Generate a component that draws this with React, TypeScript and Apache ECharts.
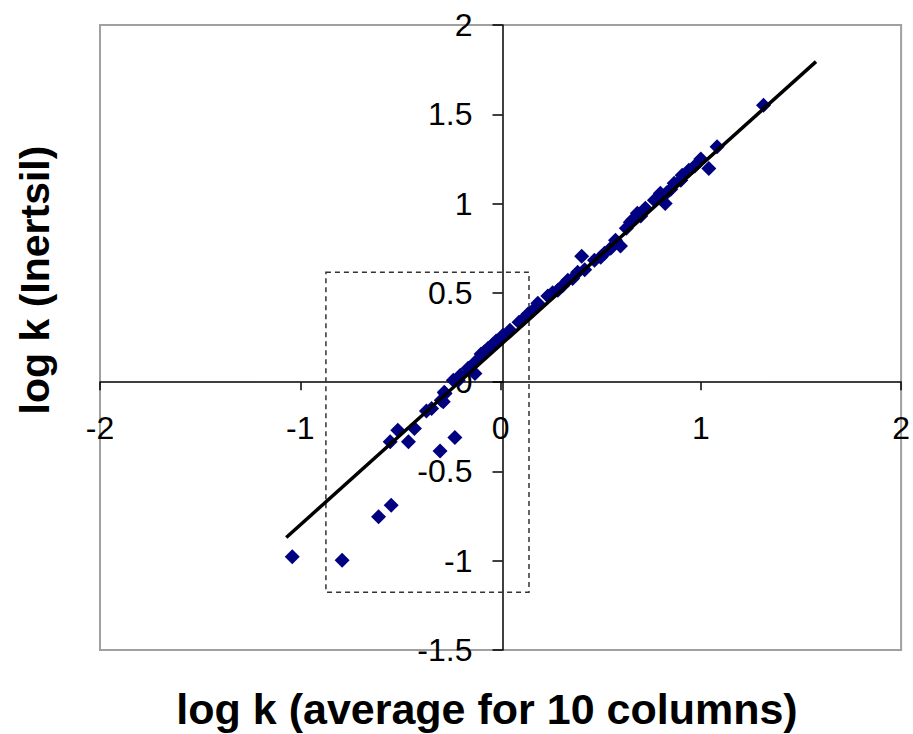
import React, { useEffect, useRef } from "react";
import * as echarts from "echarts";

const xValues = [
  -1.04, -0.791, -0.609, -0.546, -0.551, -0.513, -0.46, -0.43, -0.302, -0.228,
  -0.37, -0.344, -0.296, -0.286, -0.281, -0.277, -0.236, -0.211, -0.201, -0.162,
  -0.128, -0.127, -0.097, -0.08, -0.062, -0.04, -0.022, 0.012, 0.047, 0.092,
  0.11, 0.137, 0.16, 0.186, 0.236, 0.26, 0.286, 0.31, 0.336, 0.36,
  0.385, 0.405, 0.42, 0.469, 0.5, 0.519, 0.55, 0.574, 0.599, 0.628,
  0.648, 0.66, 0.683, 0.7, 0.723, 0.768, 0.798, 0.822, 0.83, 0.85,
  0.867, 0.9, 0.907, 0.94, 0.97, 1.0, 1.04, 1.081, 1.313,
];
const yValues = [
  -0.978, -0.997, -0.754, -0.689, -0.334, -0.269, -0.334, -0.26, -0.385, -0.31,
  -0.162, -0.147, -0.101, -0.11, -0.056, -0.063, 0.011, 0.011, 0.039, 0.078,
  0.049, 0.112, 0.157, 0.17, 0.19, 0.21, 0.23, 0.263, 0.291, 0.336,
  0.35, 0.381, 0.4, 0.442, 0.482, 0.5, 0.515, 0.54, 0.571, 0.58,
  0.616, 0.705, 0.63, 0.683, 0.7, 0.722, 0.75, 0.795, 0.762, 0.862,
  0.896, 0.91, 0.946, 0.93, 0.974, 1.019, 1.058, 1.0, 1.06, 1.08,
  1.114, 1.13, 1.159, 1.187, 1.21, 1.25, 1.196, 1.318, 1.551,
];

const trendX = [-1.07, 1.575];
const trendY = [-0.87, 1.795];

const boxCorner1 = [-0.872, 0.616];
const boxCorner2 = [0.142, -1.176];

const xTitle = "log k (average for 10 columns)";
const yTitle = "log k (Inertsil)";

const FONT = "'Liberation Sans', Arial, Helvetica, sans-serif";

const GRID_LEFT = 100;
const GRID_TOP = 25;
const GRID_W = 805;
const GRID_H = 625;
const X_MIN = -2, X_MAX = 2, Y_MIN = -1.5, Y_MAX = 2;

export default function App() {
  const ref = useRef<HTMLDivElement>(null);
  useEffect(() => {
    if (!ref.current) return;
    const chart = echarts.init(ref.current, null, { renderer: "svg" });
    const scatterData = xValues.map((x, i) => [x, yValues[i]]);
    const trendData = trendX.map((x, i) => [x, trendY[i]]);
    // shift the axes so they cross at the origin (offset from the grid edge)
    const xAxisOffset = -(GRID_H * (0 - Y_MIN)) / (Y_MAX - Y_MIN);
    const yAxisOffset = -(GRID_W * (0 - X_MIN)) / (X_MAX - X_MIN);
    chart.setOption({
      animation: false,
      backgroundColor: "#ffffff",
      grid: {
        left: GRID_LEFT,
        top: GRID_TOP,
        width: GRID_W,
        height: GRID_H,
        show: true,
        borderColor: "#a0a0a0",
        borderWidth: 2,
        backgroundColor: "#ffffff",
      },
      xAxis: {
        type: "value",
        min: X_MIN,
        max: X_MAX,
        interval: 1,
        position: "bottom",
        offset: xAxisOffset,
        axisLine: { show: true, onZero: false, lineStyle: { color: "#000", width: 1.5 } },
        axisTick: { show: true, inside: false, length: 8, lineStyle: { color: "#000", width: 1.5 } },
        axisLabel: {
          show: true,
          margin: 30,
          color: "#000",
          fontSize: 32,
          fontFamily: FONT,
          showMinLabel: true,
          showMaxLabel: true,
        },
        splitLine: { show: false },
      },
      yAxis: {
        type: "value",
        min: Y_MIN,
        max: Y_MAX,
        interval: 0.5,
        position: "left",
        offset: yAxisOffset,
        axisLine: { show: true, onZero: false, lineStyle: { color: "#000", width: 1.5 } },
        axisTick: { show: true, inside: false, length: 10, lineStyle: { color: "#000", width: 1.5 } },
        axisLabel: {
          show: true,
          margin: 30,
          color: "#000",
          fontSize: 32,
          fontFamily: FONT,
          showMinLabel: true,
          showMaxLabel: true,
        },
        splitLine: { show: false },
      },
      graphic: [
        {
          type: "text",
          x: 487,
          y: 709,
          style: {
            text: xTitle,
            font: `bold 43px ${FONT}`,
            fill: "#000",
            align: "center",
            verticalAlign: "middle",
          },
        },
        {
          type: "text",
          x: 35,
          y: 280,
          rotation: Math.PI / 2,
          style: {
            text: yTitle,
            font: `bold 41px ${FONT}`,
            fill: "#000",
            align: "center",
            verticalAlign: "middle",
          },
        },
      ],
      series: [
        {
          type: "scatter",
          data: scatterData,
          symbol: "diamond",
          symbolSize: 15,
          itemStyle: { color: "#000080", opacity: 1 },
          markArea: {
            silent: true,
            itemStyle: {
              color: "rgba(0,0,0,0)",
              borderColor: "#333",
              borderWidth: 1.5,
              borderType: [5, 4],
            },
            data: [[{ coord: boxCorner1 }, { coord: boxCorner2 }]],
          },
          z: 2,
        },
        {
          type: "line",
          data: trendData,
          symbol: "none",
          lineStyle: { color: "#000", width: 3.5 },
          z: 3,
        },
      ],
    });
    return () => chart.dispose();
  }, []);
  return (
    <div
      ref={ref}
      style={{ position: "fixed", left: 0, top: 0, width: 913, height: 734 }}
    />
  );
}
